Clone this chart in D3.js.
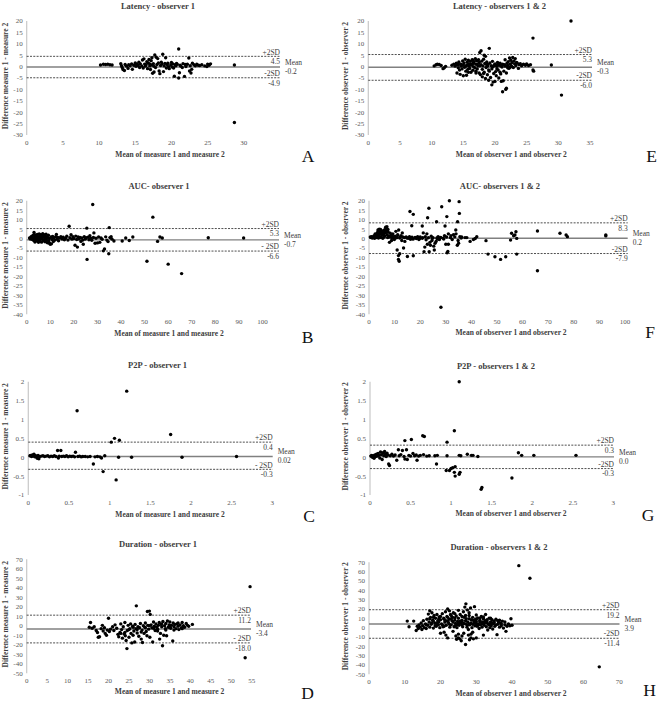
<!DOCTYPE html>
<html><head><meta charset="utf-8">
<script src="https://cdn.jsdelivr.net/npm/d3@7"></script>
<style>body{margin:0;background:#fff}svg{display:block}</style>
</head><body>
<svg id="chart" width="660" height="704"></svg>
<script>
// ---------- DATA ----------
const latencyObs1 = [[10.2,0.7],[10.6,1.0],[10.9,0.9],[11.2,1.0],[11.5,0.8],[11.8,0.7],
[13.0,1.3],[13.1,0.4],[13.2,-0.4],[13.3,-1.3],[13.5,-1.7],[13.6,0.9],[13.8,0.2],[14.0,-0.8],[14.1,0.8],[14.3,0.4],[14.5,1.2],[14.6,-1.2],[14.8,0.6],[15.0,1.6],[15.1,0.1],[15.2,1.0],[15.4,0.5],[15.5,1.9],[15.6,-0.4],[15.7,1.2],[15.9,0.3],[16.0,2.9],[16.1,-0.6],[16.2,3.4],[16.3,1.1],[16.4,0.2],[16.5,0.8],[16.6,2.1],[16.7,-0.9],[16.8,1.6],[16.9,3.1],[17.0,0.3],[17.0,1.2],[17.1,-1.3],[17.2,2.6],[17.3,3.9],[17.3,0.7],[17.4,-2.9],[17.5,1.3],[17.6,-2.4],[17.6,0.1],[17.7,5.1],[17.8,-0.4],[17.9,4.1],[18.0,0.9],[18.1,3.5],[18.2,1.6],[18.3,-1.9],[18.4,-3.1],[18.5,0.5],[18.6,1.9],[18.7,1.1],[18.8,5.4],[18.9,-2.2],[19.0,0.3],[19.1,1.4],[19.2,3.9],[19.3,-0.6],[19.4,0.9],[19.5,1.5],[19.6,0.0],[19.7,-0.9],[19.9,0.7],[20.0,1.8],[20.1,-0.2],[20.2,1.2],[20.3,-0.6],[20.4,-4.2],[20.5,0.8],[20.6,0.3],[20.7,1.4],[20.8,1.0],[21.0,7.7],[21.0,-5.0],[21.1,-2.7],[21.2,0.6],[21.3,0.2],[21.5,-0.4],[21.6,1.3],[21.8,-4.3],[21.9,0.9],[22.0,0.0],[22.2,1.0],[22.4,3.8],[22.5,-1.9],[22.6,0.4],[22.7,-2.8],[22.8,-1.2],[22.9,1.5],[23.1,0.8],[23.3,0.4],[23.5,1.0],[23.7,0.6],[23.9,0.5],[24.2,0.8],[24.6,0.3],[24.9,0.0],[25.0,1.1],[25.2,0.6],[25.4,1.2],[28.7,0.7],[28.7,-24.5]];

const latencyObs12 = [[10.4,0.3],[10.7,0.8],[10.9,1.0],[11.2,0.9],[11.5,0.5],[11.8,-0.9],[12.2,0.1],[12.0,-0.5],
[13.2,0.6],[13.5,1.1],[13.7,0.2],[13.8,0.9],[13.9,1.5],[14.0,-2.8],[14.1,0.8],[14.2,-0.5],[14.2,1.2],[14.3,2.0],[14.4,-1.5],[14.5,-3.4],[14.6,1.0],[14.6,0.4],[14.7,0.3],[14.8,-1.0],[14.9,2.5],[15.0,-4.0],[15.0,0.8],[15.1,1.6],[15.2,-0.3],[15.3,3.2],[15.3,0.0],[15.4,-2.0],[15.5,-3.8],[15.5,0.5],[15.6,1.9],[15.7,-1.2],[15.8,2.8],[15.8,0.9],[15.8,-2.5],[15.9,0.2],[16.0,-0.8],[16.0,1.2],[16.1,2.3],[16.2,-2.5],[16.2,0.9],[16.3,0.7],[16.4,3.0],[16.5,-1.6],[16.5,1.5],[16.5,2.8],[16.6,0.0],[16.6,1.5],[16.7,2.1],[16.8,-0.5],[16.9,3.5],[17.0,1.0],[17.0,-2.0],[17.0,-2.8],[17.1,2.6],[17.2,-1.0],[17.2,1.1],[17.3,0.4],[17.4,3.0],[17.5,-2.8],[17.5,1.8],[17.6,6.2],[17.6,0.4],[17.7,-3.5],[17.8,7.0],[17.8,0.8],[17.9,2.4],[18.0,-4.5],[18.0,-1.2],[18.1,0.3],[18.2,3.2],[18.2,-3.0],[18.3,5.0],[18.3,-2.5],[18.4,1.4],[18.5,-5.2],[18.5,4.5],[18.6,-0.4],[18.6,1.0],[18.7,2.0],[18.8,-3.6],[18.8,0.2],[18.9,0.9],[19.0,-6.0],[19.0,-1.5],[19.1,8.0],[19.1,-2.0],[19.2,1.6],[19.3,-4.8],[19.4,0.4],[19.5,-8.0],[19.5,-1.0],[19.6,2.3],[19.6,-0.2],[19.7,-6.8],[19.8,-3.0],[19.8,0.3],[19.9,0.7],[20.0,-6.5],[20.0,1.2],[20.1,-2.2],[20.2,-4.0],[20.2,0.5],[20.3,0.1],[20.3,-1.0],[20.4,1.8],[20.5,-1.5],[20.5,0.9],[20.6,-5.0],[20.7,0.6],[20.8,1.5],[20.8,-2.5],[20.9,-3.2],[21.0,-6.5],[21.0,0.3],[21.1,-0.2],[21.2,-11.0],[21.2,1.0],[21.3,-6.2],[21.4,-2.0],[21.5,0.8],[21.6,3.0],[21.6,0.2],[21.7,-10.0],[21.8,-9.5],[21.8,-2.8],[21.9,1.5],[22.0,0.5],[22.0,-0.5],[22.1,2.2],[22.2,-0.8],[22.3,3.8],[22.4,1.0],[22.4,-0.3],[22.5,2.8],[22.6,0.3],[22.7,1.8],[22.8,4.0],[22.9,-0.4],[23.0,2.5],[23.1,1.2],[23.2,3.5],[23.3,0.5],[23.4,1.8],[23.5,1.6],[23.7,-0.8],[23.8,0.9],[24.0,1.3],[24.2,0.4],[24.5,1.0],[24.8,0.6],[25.0,1.2],[25.3,0.5],[25.6,0.8],[26.0,12.5],[26.0,-1.5],[26.1,-2.0],[28.9,0.7],[30.5,-12.5],[32.0,20.0]];

const aucObs1 = [[1.2,0.3],[1.5,-0.2],[1.8,0.8],[2.0,0.1],[2.2,1.2],[2.4,-0.5],[2.6,0.5],[2.8,1.8],[3.0,-1.0],[3.1,3.2],[3.2,0.2],[3.4,2.0],[3.5,-1.8],[3.7,0.9],[3.9,-0.3],[4.0,1.5],[4.2,-1.2],[4.4,0.4],[4.5,2.2],[4.7,-0.8],[4.9,1.0],[5.0,-2.0],[5.2,0.1],[5.3,2.5],[5.5,-1.4],[5.6,1.3],[5.8,-0.4],[6.0,2.0],[6.1,0.6],[6.3,-1.9],[6.5,1.7],[6.6,-0.2],[6.8,2.6],[7.0,-1.1],[7.1,0.8],[7.3,2.1],[7.5,-0.6],[7.6,1.2],[7.8,-1.7],[8.0,0.3],[8.2,2.3],[8.4,-0.9],[8.6,1.0],[8.8,-2.2],[9.0,0.5],[9.2,1.8],[9.4,-1.3],[9.6,0.0],[9.8,-2.6],[10.0,-3.0],[10.3,0.8],[10.5,-2.8],[10.8,-0.5],[11.0,1.1],[11.3,-1.6],[11.6,0.4],[12.0,-0.8],[12.3,1.0],[12.6,2.2],[12.9,-0.3],[13.2,0.6],[13.5,-1.2],[14.0,0.3],[14.5,1.0],[15.0,-0.2],[15.5,0.7],[16.0,-0.6],[16.5,0.2],[17.0,1.2],[17.5,-0.8],[18.0,6.5],[18.3,0.4],[18.8,2.0],[19.2,-0.3],[19.6,1.0],[20.0,0.0],[20.5,-3.5],[20.8,1.3],[21.2,-0.5],[21.5,-4.5],[21.8,0.8],[22.2,-0.2],[22.6,0.6],[23.0,-1.5],[23.4,0.3],[23.8,-0.8],[24.0,-3.0],[24.4,1.0],[24.8,-0.3],[25.2,0.5],[25.5,5.5],[25.6,-11.0],[26.0,0.7],[26.4,-0.6],[26.8,1.5],[27.2,0.2],[27.6,-0.9],[28.0,18.0],[28.3,0.6],[28.5,3.0],[29.0,-2.5],[29.4,0.2],[30.0,-2.3],[30.5,0.8],[31.0,-2.0],[31.5,0.3],[32.0,-0.4],[32.5,-6.5],[33.0,-5.5],[33.5,0.9],[34.0,-0.8],[34.5,-1.6],[34.8,-8.0],[35.0,5.8],[35.3,0.5],[35.8,1.0],[36.2,-0.3],[37.0,-1.3],[40.5,-1.3],[42.0,0.3],[43.5,-1.0],[45.0,0.8],[51.0,-12.0],[53.5,11.3],[55.5,-1.5],[56.5,0.8],[57.5,0.3],[60.0,-13.5],[65.7,-18.5],[77.0,0.4],[92.0,0.3]];

const aucObs12 = [[0.5,0.8],[0.8,0.5],[1.0,1.0],[1.2,0.6],[1.3,0.3],[1.5,0.9],[1.8,0.6],[2.0,1.5],[2.2,0.2],[2.4,2.4],[2.5,1.0],[2.7,2.0],[2.8,0.8],[3.0,0.5],[3.2,3.0],[3.3,1.8],[3.4,1.5],[3.5,4.5],[3.6,3.8],[3.7,0.3],[3.9,2.5],[4.0,5.0],[4.1,2.2],[4.2,1.0],[4.4,3.5],[4.5,4.8],[4.7,0.6],[4.9,2.8],[5.0,4.0],[5.1,3.0],[5.2,1.8],[5.4,0.2],[5.5,3.2],[5.7,2.2],[5.8,4.2],[5.9,0.9],[6.0,4.5],[6.2,1.3],[6.4,3.0],[6.5,6.0],[6.6,5.2],[6.7,3.8],[6.8,5.5],[7.0,6.3],[7.1,2.0],[7.3,0.5],[7.4,4.8],[7.5,3.5],[7.8,1.2],[8.0,-2.0],[8.2,0.8],[8.3,2.8],[8.5,1.5],[8.8,-1.0],[9.0,0.3],[9.1,1.6],[9.3,2.5],[9.6,0.6],[9.9,-0.5],[10.0,0.7],[10.2,1.2],[10.5,3.8],[10.8,0.4],[11.0,-6.0],[11.0,0.9],[11.2,2.0],[11.5,-11.0],[11.5,-9.0],[11.6,4.5],[11.8,-12.0],[12.0,-8.0],[12.0,0.3],[12.2,0.8],[12.5,1.5],[12.8,-1.0],[13.0,3.0],[13.2,0.8],[13.5,-5.0],[13.8,0.5],[14.0,-1.5],[14.5,0.9],[14.8,0.3],[15.0,-9.5],[15.3,0.2],[15.8,1.0],[16.0,0.6],[16.0,14.3],[16.2,-0.4],[16.7,6.8],[16.8,0.7],[17.2,-0.3],[17.3,12.8],[17.3,-9.1],[18.0,0.6],[18.5,0.0],[18.8,0.4],[19.0,1.0],[19.5,-0.5],[19.8,0.1],[20.0,0.8],[20.8,6.6],[20.8,0.2],[21.0,0.5],[21.2,3.0],[21.5,-7.0],[21.8,-4.5],[22.0,1.0],[22.3,-0.6],[22.6,2.5],[22.8,-3.0],[22.9,11.0],[23.2,0.4],[23.4,16.0],[23.5,-7.0],[23.8,-2.0],[24.0,-3.5],[24.3,1.2],[24.6,-1.0],[24.8,0.2],[25.0,0.5],[25.3,-4.0],[25.5,-6.0],[25.8,-2.5],[26.2,-1.5],[26.4,8.9],[26.5,0.3],[26.8,-0.3],[27.0,1.0],[27.5,-0.5],[27.8,0.4],[28.0,0.6],[28.1,-36.3],[28.4,16.8],[29.0,0.2],[29.2,-0.2],[29.5,1.5],[29.7,6.6],[30.0,-3.0],[30.3,0.8],[30.4,11.6],[30.5,-7.5],[30.8,-6.8],[31.0,-3.0],[31.0,2.5],[31.4,20.0],[31.8,0.5],[32.0,1.5],[32.5,-0.5],[33.0,2.0],[33.5,0.9],[33.9,4.5],[34.0,2.5],[34.5,-3.5],[34.6,8.9],[34.8,-1.0],[35.0,-2.5],[35.2,19.5],[35.3,13.3],[35.5,1.0],[36.0,0.3],[36.2,0.8],[37.5,0.5],[38.2,0.5],[39.5,-1.5],[40.8,-0.5],[41.5,0.0],[42.1,1.0],[45.7,-1.1],[46.5,-8.2],[49.2,-9.6],[51.4,-11.0],[53.4,-9.6],[55.3,-0.8],[55.7,2.8],[56.5,1.5],[57.0,1.9],[57.4,3.6],[57.7,0.1],[57.7,-8.2],[65.8,4.0],[65.8,-17.0],[74.6,2.8],[77.0,1.9],[77.5,1.0],[92.5,1.9],[92.5,1.4]];

const p2pObs1 = [[0.02,0.04],[0.03,0.05],[0.04,0.02],[0.05,0.06],[0.06,0.03],[0.07,0.08],[0.08,0.01],[0.09,0.04],[0.10,0.02],[0.11,-0.03],[0.12,0.05],[0.13,-0.04],[0.14,0.02],[0.16,0.03],[0.18,0.04],[0.20,0.02],[0.22,0.03],[0.24,0.04],[0.26,0.01],[0.28,0.03],[0.30,0.02],[0.32,0.04],[0.34,0.02],[0.36,0.18],[0.37,-0.02],[0.38,0.03],[0.40,0.18],[0.41,0.02],[0.43,0.03],[0.45,0.02],[0.47,0.04],[0.49,0.01],[0.51,0.03],[0.53,0.02],[0.55,0.03],[0.57,0.01],[0.58,0.13],[0.60,1.23],[0.61,0.02],[0.63,0.03],[0.65,0.01],[0.67,0.02],[0.70,0.02],[0.73,0.01],[0.76,0.02],[0.80,-0.18],[0.82,0.01],[0.85,0.02],[0.88,0.01],[0.90,-0.02],[0.92,-0.38],[0.94,0.04],[1.02,0.4],[1.06,0.5],[1.08,-0.6],[1.11,0.0],[1.12,0.45],[1.21,1.75],[1.27,0.0],[1.75,0.6],[1.89,0.0],[2.56,0.02]];

const p2pObs12 = [[0.01,0.03],[0.02,0.05],[0.03,0.0],[0.04,0.04],[0.05,-0.03],[0.06,0.06],[0.07,0.02],[0.08,0.08],[0.09,0.03],[0.10,0.1],[0.11,0.05],[0.12,-0.02],[0.13,0.14],[0.14,0.07],[0.15,-0.06],[0.16,0.12],[0.17,0.04],[0.18,0.15],[0.19,0.08],[0.20,0.02],[0.21,0.11],[0.22,0.06],[0.23,-0.18],[0.24,-0.22],[0.25,0.04],[0.27,0.08],[0.29,0.03],[0.31,0.06],[0.33,-0.08],[0.35,0.2],[0.36,0.04],[0.38,0.07],[0.40,0.18],[0.42,0.02],[0.43,0.44],[0.43,-0.05],[0.45,0.2],[0.46,-0.06],[0.48,0.05],[0.50,0.03],[0.51,0.47],[0.53,0.1],[0.55,0.04],[0.57,0.06],[0.58,-0.08],[0.60,0.03],[0.62,0.05],[0.65,0.57],[0.66,0.07],[0.67,0.55],[0.70,0.03],[0.73,0.04],[0.80,0.04],[0.82,-0.18],[0.83,0.05],[0.94,-0.35],[0.95,0.4],[0.95,0.04],[0.98,-0.35],[1.00,-0.3],[1.02,-0.28],[1.04,0.7],[1.04,-0.4],[1.05,-0.25],[1.05,-0.5],[1.10,2.0],[1.10,0.05],[1.10,-0.45],[1.11,-0.4],[1.12,0.04],[1.20,0.08],[1.25,0.05],[1.27,0.05],[1.33,0.02],[1.37,-0.85],[1.38,-0.8],[1.75,-0.55],[1.83,0.12],[1.87,0.05],[2.02,0.05],[2.54,0.05]];

const durationObs1 = [[15.3,-1.5],[15.6,3.5],[16.0,-2.5],[16.5,-1.0],[17.0,-5.0],[17.3,-7.0],[17.5,-12.0],[17.8,-11.5],[18.2,-3.0],[18.5,0.5],[18.7,-5.5],[19.0,-2.0],[19.2,-8.0],[19.5,-10.0],[19.7,-4.5],[20.0,8.0],[20.2,-6.0],[20.5,-3.5],[21.0,-1.0],[21.3,-5.0],[21.6,1.0],[22.0,-2.5],[22.3,-9.0],[22.5,-11.5],[22.8,-7.0],[23.0,2.0],[23.0,-8.0],[23.2,-4.0],[23.4,-13.0],[23.6,-1.0],[23.8,-8.5],[24.0,3.5],[24.0,-7.0],[24.1,-10.5],[24.3,-15.5],[24.5,-24.0],[24.6,-5.0],[24.8,0.5],[25.0,-12.0],[25.0,-4.0],[25.2,-3.0],[25.4,2.0],[25.5,-8.0],[25.7,-18.0],[25.9,-0.5],[26.0,-10.0],[26.0,-1.5],[26.2,-5.5],[26.4,-17.0],[26.5,1.5],[26.7,-3.0],[26.8,21.0],[27.0,-7.5],[27.0,-4.0],[27.2,-1.0],[27.4,-11.0],[27.6,-2.0],[27.8,2.5],[28.0,-14.0],[28.0,-6.5],[28.2,-4.5],[28.3,-17.5],[28.5,0.0],[28.7,-8.0],[28.9,-1.5],[29.0,3.0],[29.0,-2.0],[29.2,-6.0],[29.4,-10.5],[29.5,15.0],[29.6,0.5],[29.8,-3.5],[30.0,15.5],[30.0,0.0],[30.1,-12.0],[30.2,12.0],[30.4,1.0],[30.6,-2.0],[30.8,-17.0],[31.0,4.0],[31.0,-2.5],[31.2,-0.5],[31.4,-5.0],[31.6,2.0],[31.8,-1.5],[32.0,-3.5],[32.0,-5.5],[32.2,0.5],[32.4,3.5],[32.5,-14.0],[32.7,-8.0],[32.9,1.5],[33.0,-1.0],[33.0,2.0],[33.2,-21.0],[33.3,4.5],[33.5,-10.0],[33.7,0.0],[33.9,-3.0],[34.0,2.5],[34.0,-4.5],[34.2,-10.5],[34.4,5.0],[34.6,-1.5],[34.8,1.0],[35.0,4.0],[35.0,0.0],[35.2,-2.5],[35.4,0.5],[35.7,-16.0],[35.8,3.0],[36.0,-1.0],[36.0,-4.5],[36.2,1.5],[36.5,-3.0],[36.7,2.0],[37.0,-0.5],[37.0,3.0],[37.2,-4.0],[37.5,1.0],[37.8,-2.0],[38.0,3.5],[38.0,-3.0],[38.3,0.0],[38.6,-1.5],[39.0,2.5],[39.3,0.5],[39.6,-0.5],[40.5,1.5],[53.4,-33.6],[54.6,41.2]];

const durationObs12 = [[10.7,7.0],[11.2,1.0],[12.5,7.0],[13.2,-3.0],[13.5,1.5],[13.8,-1.0],[14.0,3.0],[14.3,0.5],[14.6,5.0],[14.8,-2.0],[15.0,2.0],[15.2,7.5],[15.5,0.0],[15.8,4.0],[16.0,-1.0],[16.0,3.0],[16.2,9.0],[16.4,2.5],[16.6,14.5],[16.8,6.0],[17.0,18.0],[17.0,0.5],[17.0,9.5],[17.2,11.0],[17.4,3.5],[17.5,5.0],[17.6,16.0],[17.8,8.0],[18.0,-0.5],[18.0,7.0],[18.0,11.0],[18.2,13.0],[18.4,5.0],[18.5,2.0],[18.6,10.0],[18.8,1.5],[19.0,14.0],[19.0,4.5],[19.2,7.0],[19.4,3.0],[19.5,6.0],[19.5,9.0],[19.6,11.5],[19.8,0.0],[20.0,-6.0],[20.0,8.5],[20.0,12.0],[20.3,4.0],[20.5,15.0],[20.5,3.0],[20.7,1.0],[20.9,10.0],[21.0,-5.0],[21.0,9.0],[21.0,1.5],[21.2,6.0],[21.4,17.0],[21.5,-8.0],[21.5,7.5],[21.6,2.5],[21.8,12.0],[22.0,-11.0],[22.0,20.0],[22.0,7.0],[22.0,11.0],[22.2,5.5],[22.4,9.0],[22.5,18.0],[22.5,3.5],[22.6,0.5],[22.8,14.0],[23.0,3.0],[23.0,9.5],[23.0,13.0],[23.2,7.5],[23.4,11.0],[23.5,-4.0],[23.5,6.0],[23.6,16.0],[23.8,1.0],[24.0,8.0],[24.0,15.0],[24.0,1.5],[24.0,10.5],[24.2,4.5],[24.3,-9.0],[24.4,12.5],[24.5,3.0],[24.5,-12.5],[24.6,0.0],[24.8,6.5],[25.0,-11.0],[25.0,10.0],[25.0,18.5],[25.0,5.0],[25.0,-7.0],[25.2,2.5],[25.4,-12.0],[25.5,14.0],[25.5,7.0],[25.6,5.0],[25.8,-14.0],[26.0,8.0],[26.0,12.0],[26.0,3.0],[26.0,6.5],[26.0,-9.0],[26.2,1.0],[26.4,17.0],[26.5,-6.0],[26.5,4.5],[26.6,11.0],[26.8,22.0],[27.0,-18.0],[27.0,4.0],[27.0,7.5],[27.0,13.0],[27.1,25.5],[27.2,9.5],[27.4,0.5],[27.5,19.0],[27.5,2.5],[27.6,6.0],[27.8,-2.0],[27.8,-8.0],[28.0,13.0],[28.0,16.0],[28.0,9.5],[28.0,4.0],[28.1,-13.0],[28.2,3.0],[28.4,21.0],[28.5,-7.0],[28.5,5.0],[28.5,-11.0],[28.6,8.5],[28.8,0.0],[29.0,11.0],[29.0,3.5],[29.0,8.0],[29.0,-5.0],[29.2,-12.0],[29.4,5.5],[29.5,22.5],[29.5,7.0],[29.6,2.0],[29.8,9.0],[30.0,-11.0],[30.0,6.5],[30.0,13.5],[30.0,4.5],[30.0,9.0],[30.2,1.5],[30.4,10.5],[30.5,2.5],[30.6,4.0],[30.8,-1.0],[31.0,8.0],[31.0,6.5],[31.0,10.0],[31.2,3.0],[31.4,12.0],[31.5,5.0],[31.6,0.5],[31.8,6.0],[32.0,-8.0],[32.0,9.5],[32.0,4.0],[32.0,11.5],[32.2,2.5],[32.4,5.5],[32.5,7.5],[32.6,14.0],[32.8,1.0],[33.0,7.0],[33.0,5.0],[33.0,8.5],[33.2,-2.5],[33.4,4.0],[33.5,3.0],[33.6,10.0],[33.8,0.0],[34.0,6.0],[34.0,3.5],[34.0,10.0],[34.2,2.0],[34.4,8.5],[34.5,5.0],[34.6,-1.5],[34.8,4.5],[35.0,7.0],[35.0,5.5],[35.2,1.5],[35.5,9.0],[35.5,3.0],[35.8,-7.5],[36.0,3.5],[36.0,7.5],[36.2,6.0],[36.5,0.5],[36.5,8.0],[36.8,5.0],[37.0,2.0],[37.0,4.0],[37.3,7.0],[37.6,-0.5],[38.0,3.0],[38.0,6.0],[38.3,-4.0],[38.6,1.5],[39.0,4.0],[39.4,2.0],[39.7,9.5],[40.0,2.5],[41.9,66.4],[45.0,52.9],[64.4,-42.0]];

const panelLetters = ["A","E","B","F","C","G","D","H"];
const panelTitles = ["Latency - observer 1","Latency - observers 1 & 2","AUC- observer 1","AUC- observers 1 & 2","P2P - observer 1","P2P - observers 1 & 2","Duration - observer 1","Duration - observers 1 & 2"];
const xAxisTitles = ["Mean of measure 1 and measure 2","Mean of observer 1 and observer 2","Mean of measure 1 and measure 2","Mean of observer 1 and observer 2","Mean of measure 1 and measure 2","Mean of observer 1 and observer 2","Mean of measure 1 and measure 2","Mean of observer 1 and observer 2"];
const yAxisTitles = ["Difference measure 1 - measure 2","Difference observer 1 - observer 2","Difference measure 1 - measure 2","Difference observer 1 - observer 2","Difference measure 1 - measure 2","Difference observer 1 - observer 2","Difference measure 1 - measure 2","Difference observer 1 - observer 2"];
const upperLimits = [4.5, 5.3, 5.3, 8.3, 0.4, 0.32, 11.2, 19.2];
const meanValues = [-0.2, -0.3, -0.7, 0.2, 0.02, 0.01, -3.4, 3.9];
const lowerLimits = [-4.9, -6.0, -6.6, -7.9, -0.32, -0.3, -18.0, -11.4];
const upperTexts = ["4.5","5.3","5.3","8.3","0.4","0.3","11.2","19.2"];
const meanTexts = ["-0.2","-0.3","-0.7","0.2","0.02","0.0","-3.4","3.9"];
const lowerTexts = ["-4.9","-6.0","-6.6","-7.9","-0.3","-0.3","-18.0","-11.4"];
const upperNames = ["+2SD","+2SD","+2SD","+2SD","+2SD","+2SD","+2SD","+2SD"];
const lowerNames = ["-2SD","-2SD","- 2SD","-2SD","- 2SD","-2SD","- 2SD","-2SD"];
const xTickValues = [
  [0,5,10,15,20,25,30],[0,5,10,15,20,25,30,35],
  [0,10,20,30,40,50,60,70,80,90,100],[0,10,20,30,40,50,60,70,80,90,100],
  [0,0.5,1,1.5,2,2.5,3],[0,0.5,1,1.5,2,2.5,3],
  [0,5,10,15,20,25,30,35,40,45,50,55],[0,10,20,30,40,50,60,70]];
const yTickValues = [
  [-30,-25,-20,-15,-10,-5,0,5,10,15,20],[-30,-25,-20,-15,-10,-5,0,5,10,15,20],
  [-40,-35,-30,-25,-20,-15,-10,-5,0,5,10,15,20],[-40,-35,-30,-25,-20,-15,-10,-5,0,5,10,15,20],
  [-1,-0.5,0,0.5,1,1.5,2],[-1,-0.5,0,0.5,1,1.5,2],
  [-50,-40,-30,-20,-10,0,10,20,30,40,50,60,70],[-50,-40,-30,-20,-10,0,10,20,30,40,50,60,70]];
const xDomains = [[0,35],[0,35],[0,100],[0,100],[0,3],[0,3],[0,55],[0,70]];
const yDomains = [[-30,20],[-30,20],[-40,20],[-40,20],[-1,2],[-1,2],[-50,70],[-50,70]];
const seriesList = [latencyObs1, latencyObs12, aucObs1, aucObs12, p2pObs1, p2pObs12, durationObs1, durationObs12];

// ---------- LAYOUT (pixels) ----------
const frames = [
  {xr:[26.7,280],  yr:[135,21],     lineEnd:280,   title:[158,9],     xt:[170,156.7], yt:5,     letter:[308,161.8]},
  {xr:[368.3,590], yr:[135,21],     lineEnd:592,   title:[499.5,9],   xt:[511.3,156.7], yt:345.5, letter:[651.5,161.8]},
  {xr:[26.7,262.5],yr:[314.3,200.7],lineEnd:279,   title:[159,188.7], xt:[169,336],   yt:5,     letter:[307.5,342.5]},
  {xr:[369,625],   yr:[314.3,200.7],lineEnd:627.7, title:[500,188.7], xt:[511,335],   yt:345.5, letter:[650,338.3]},
  {xr:[28.3,272.3],yr:[495,381.7],  lineEnd:272.7, title:[157.5,368], xt:[170,516.7], yt:5,     letter:[309,522]},
  {xr:[370,613.3], yr:[495,381.7],  lineEnd:614,   title:[496,369],   xt:[511,516],   yt:345.5, letter:[648,520.8]},
  {xr:[26.7,251.7],yr:[673.3,559.3],lineEnd:251,   title:[158,547.3], xt:[169.5,694.4], yt:5,   letter:[307.5,699]},
  {xr:[369,619.3], yr:[674.3,562.3],lineEnd:619.5, title:[499,549.7], xt:[511,696],   yt:345.5, letter:[649.5,695.8]}
];

const svg = d3.select("#chart");
const serif = "'Liberation Serif','Times New Roman',serif";
const fmt = v => String(+v.toFixed(2));

frames.forEach((f, i) => {
  const g = svg.append("g");
  const x = d3.scaleLinear().domain(xDomains[i]).range(f.xr);
  const y = d3.scaleLinear().domain(yDomains[i]).range(f.yr);
  const x0 = f.xr[0];

  g.append("line").attr("x1", x0).attr("x2", x0).attr("y1", f.yr[1]).attr("y2", f.yr[0])
    .attr("stroke", "#c8c8c8").attr("stroke-width", 1.2);

  g.selectAll(".yt").data(yTickValues[i]).join("text")
    .attr("x", x0 - 4).attr("y", d => y(d)).attr("dy", "0.35em")
    .attr("text-anchor", "end").attr("font-family", serif).attr("font-size", 7)
    .attr("fill", "#595959").text(fmt);

  g.selectAll(".xt").data(xTickValues[i]).join("text")
    .attr("x", d => x(d)).attr("y", f.yr[0] + 9.5)
    .attr("text-anchor", "middle").attr("font-family", serif).attr("font-size", 7)
    .attr("fill", "#595959").text(fmt);

  g.append("line").attr("x1", x0).attr("x2", f.lineEnd)
    .attr("y1", y(meanValues[i])).attr("y2", y(meanValues[i]))
    .attr("stroke", "#808080").attr("stroke-width", 1.4);

  [upperLimits[i], lowerLimits[i]].forEach(v => {
    g.append("line").attr("x1", x0).attr("x2", f.lineEnd)
      .attr("y1", y(v)).attr("y2", y(v))
      .attr("stroke", "#222").attr("stroke-width", 0.8).attr("stroke-dasharray", "2,1.3");
  });

  g.selectAll("circle").data(seriesList[i]).join("circle")
    .attr("cx", d => x(d[0])).attr("cy", d => y(d[1])).attr("r", 1.7).attr("fill", "#000");

  const lab = (tx, xx, yy, anchor) => g.append("text").attr("x", xx).attr("y", yy)
    .attr("text-anchor", anchor).attr("font-family", serif).attr("font-size", 7.5)
    .attr("fill", "#404040").text(tx);
  const uy = y(upperLimits[i]), ly = y(lowerLimits[i]), my = y(meanValues[i]);
  lab(upperNames[i], f.lineEnd, uy - 1.8, "end");
  lab(upperTexts[i], f.lineEnd, uy + 7.8, "end");
  lab(lowerNames[i], f.lineEnd, ly - 1.8, "end");
  lab(lowerTexts[i], f.lineEnd, ly + 7.8, "end");
  lab("Mean", f.lineEnd + 5, my - 2, "start");
  lab(meanTexts[i], f.lineEnd + 5, my + 7, "start");

  g.append("text").attr("x", f.title[0]).attr("y", f.title[1]).attr("text-anchor", "middle")
    .attr("font-family", serif).attr("font-size", 8.5).attr("font-weight", "bold")
    .attr("fill", "#404040").text(panelTitles[i]);

  g.append("text").attr("x", f.xt[0]).attr("y", f.xt[1]).attr("text-anchor", "middle")
    .attr("font-family", serif).attr("font-size", 7.5).attr("font-weight", "bold")
    .attr("fill", "#404040").text(xAxisTitles[i]);

  const cy = (f.yr[0] + f.yr[1]) / 2 - 2;
  g.append("text").attr("transform", `translate(${f.yt},${cy}) rotate(-90)`)
    .attr("text-anchor", "middle").attr("dy", "0.35em")
    .attr("font-family", serif).attr("font-size", 7.5).attr("font-weight", "bold")
    .attr("fill", "#404040").text(yAxisTitles[i]);

  g.append("text").attr("x", f.letter[0]).attr("y", f.letter[1]).attr("text-anchor", "middle")
    .attr("font-family", serif).attr("font-size", 17.5).attr("fill", "#111").text(panelLetters[i]);
});
</script>
</body></html>
